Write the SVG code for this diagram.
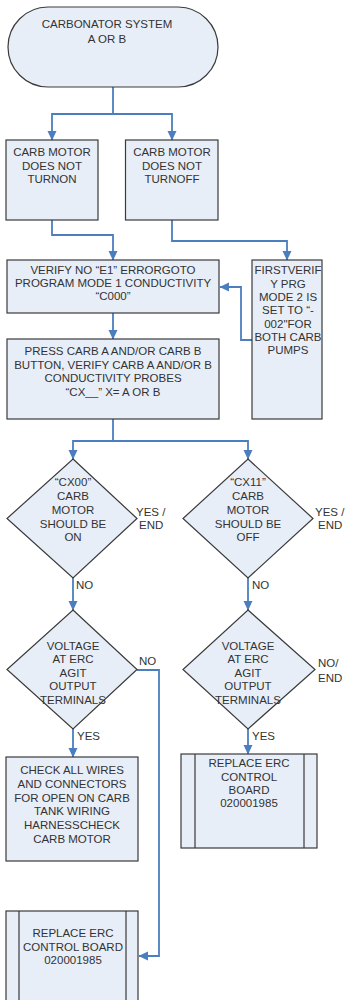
<svg xmlns="http://www.w3.org/2000/svg" width="346" height="1000" viewBox="0 0 346 1000">
<defs>
<style>
.n{fill:#E8EEF8;stroke:#3a3a3a;stroke-width:1.2}
.l{fill:none;stroke:#3a3a3a;stroke-width:1.2}
.t{font-family:"Liberation Sans",Arial,sans-serif;font-size:11.5px;fill:#333;text-anchor:middle}
.lb{font-family:"Liberation Sans",Arial,sans-serif;font-size:11.5px;fill:#333}
.c{fill:none;stroke:#4A7EBF;stroke-width:1.8;marker-end:url(#a)}
.c0{fill:none;stroke:#4A7EBF;stroke-width:1.8}
</style>
<marker id="a" markerUnits="userSpaceOnUse" markerWidth="10" markerHeight="10" viewBox="0 0 10 10" refX="9" refY="5" orient="auto">
<path d="M0,0.5 L9.5,5 L0,9.5 Z" fill="#4A7EBF"/>
</marker>
</defs>
<rect width="346" height="1000" fill="#fff"/>
<g id="connectors">
<path class="c0" d="M113,87 V114"/>
<path class="c" d="M113,114 H52 V140"/>
<path class="c" d="M113,114 H172 V140"/>
<path class="c" d="M52,220 V235 H113 V260"/>
<path class="c" d="M172,220 V241 H287 V260"/>
<path class="c" d="M252,340 H241 V287 H220"/>
<path class="c" d="M113,313 V339"/>
<path class="c0" d="M113,419 V441"/>
<path class="c" d="M113,441 H73 V459"/>
<path class="c" d="M113,441 H248 V459"/>
<path class="c" d="M73,578 V610"/>
<path class="c" d="M248,578 V610"/>
<path class="c" d="M73,729 V757"/>
<path class="c" d="M248,729 V754"/>
<path class="c" d="M137,670 H159 V956 H139"/>
</g>
<g id="start">
<rect class="n" x="8" y="7" width="210" height="80" rx="40" ry="40"/>
<text class="t" x="107" y="28">CARBONATOR SYSTEM</text>
<text class="t" x="107" y="43">A OR B</text>
</g>
<g id="notOn">
<rect class="n" x="6" y="140" width="92" height="80"/>
<text class="t" x="52" y="156">CARB MOTOR</text>
<text class="t" x="52" y="169.5">DOES NOT</text>
<text class="t" x="52" y="183">TURNON</text>
</g>
<g id="notOff">
<rect class="n" x="125.5" y="140" width="92.5" height="80"/>
<text class="t" x="172" y="156">CARB MOTOR</text>
<text class="t" x="172" y="169.5">DOES NOT</text>
<text class="t" x="172" y="183">TURNOFF</text>
</g>
<g id="verify">
<rect class="n" x="7" y="260" width="212" height="53"/>
<text class="t" x="113" y="274">VERIFY NO “E1” ERRORGOTO</text>
<text class="t" x="113" y="287">PROGRAM MODE 1 CONDUCTIVITY</text>
<text class="t" x="113" y="300">“C000”</text>
</g>
<g id="firstVerify">
<rect class="n" x="252" y="260" width="70" height="159"/>
<text class="t" x="288" y="274">FIRSTVERIF</text>
<text class="t" x="288" y="287.5">Y PRG</text>
<text class="t" x="288" y="301">MODE 2 IS</text>
<text class="t" x="288" y="314">SET TO “-</text>
<text class="t" x="288" y="327.5">002"FOR</text>
<text class="t" x="288" y="341">BOTH CARB</text>
<text class="t" x="288" y="354">PUMPS</text>
</g>
<g id="press">
<rect class="n" x="7" y="339" width="212" height="80"/>
<text class="t" x="113" y="355">PRESS CARB A AND/OR CARB B</text>
<text class="t" x="113" y="368.5">BUTTON, VERIFY CARB A AND/OR B</text>
<text class="t" x="113" y="382">CONDUCTIVITY PROBES</text>
<text class="t" x="113" y="396">“CX__”  X= A OR B</text>
</g>
<g id="cx00">
<path class="n" d="M73,459 L137,518.5 L73,578 L7,518.5 Z"/>
<text class="t" x="73" y="486">“CX00”</text>
<text class="t" x="73" y="500">CARB</text>
<text class="t" x="73" y="514">MOTOR</text>
<text class="t" x="73" y="528">SHOULD BE</text>
<text class="t" x="73" y="541">ON</text>
</g>
<g id="cx11">
<path class="n" d="M248,459 L313,518.5 L248,578 L183,518.5 Z"/>
<text class="t" x="248" y="486">“CX11”</text>
<text class="t" x="248" y="500">CARB</text>
<text class="t" x="248" y="514">MOTOR</text>
<text class="t" x="248" y="528">SHOULD BE</text>
<text class="t" x="248" y="541">OFF</text>
</g>
<g id="voltage1">
<path class="n" d="M73,610 L137,669.5 L73,729 L7,669.5 Z"/>
<text class="t" x="73" y="649.5">VOLTAGE</text>
<text class="t" x="73" y="663">AT ERC</text>
<text class="t" x="73" y="676.5">AGIT</text>
<text class="t" x="73" y="690">OUTPUT</text>
<text class="t" x="73" y="703.5">TERMINALS</text>
</g>
<g id="voltage2">
<path class="n" d="M248,610 L315,669.5 L248,729 L183,669.5 Z"/>
<text class="t" x="248" y="649.5">VOLTAGE</text>
<text class="t" x="248" y="663">AT ERC</text>
<text class="t" x="248" y="676.5">AGIT</text>
<text class="t" x="248" y="690">OUTPUT</text>
<text class="t" x="248" y="703.5">TERMINALS</text>
</g>
<g id="check">
<rect class="n" x="6" y="757" width="132" height="104"/>
<text class="t" x="72" y="774">CHECK ALL WIRES</text>
<text class="t" x="72" y="788">AND CONNECTORS</text>
<text class="t" x="72" y="801.5">FOR OPEN ON CARB</text>
<text class="t" x="72" y="815">TANK WIRING</text>
<text class="t" x="72" y="829">HARNESSCHECK</text>
<text class="t" x="72" y="843">CARB MOTOR</text>
</g>
<g id="replace2">
<rect class="n" x="181" y="754" width="136" height="94"/>
<path class="l" d="M195,754 V848 M304,754 V848"/>
<text class="t" x="249" y="767">REPLACE ERC</text>
<text class="t" x="249" y="780.5">CONTROL</text>
<text class="t" x="249" y="794">BOARD</text>
<text class="t" x="249" y="807">020001985</text>
</g>
<g id="replace1">
<rect class="n" x="6" y="911" width="132" height="100"/>
<path class="l" d="M19,911 V1011 M126,911 V1011"/>
<text class="t" x="73" y="937">REPLACE ERC</text>
<text class="t" x="73" y="951">CONTROL BOARD</text>
<text class="t" x="73" y="964">020001985</text>
</g>
<g id="labels">
<text class="lb" x="136" y="516">YES /</text>
<text class="lb" x="139" y="529">END</text>
<text class="lb" x="315" y="516">YES /</text>
<text class="lb" x="318" y="529">END</text>
<text class="lb" x="76" y="589">NO</text>
<text class="lb" x="252" y="589">NO</text>
<text class="lb" x="139" y="665">NO</text>
<text class="lb" x="318" y="667">NO/</text>
<text class="lb" x="318" y="682">END</text>
<text class="lb" x="77" y="740">YES</text>
<text class="lb" x="252" y="740">YES</text>
</g>
</svg>
